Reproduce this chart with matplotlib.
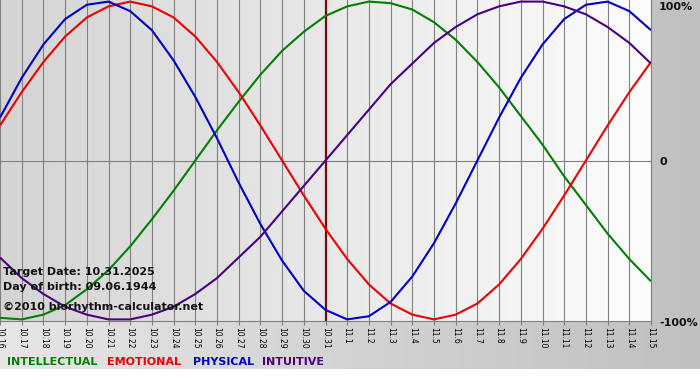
""" Biorhythm chart, 31 days around the target date. """

###########
# Imports #
###########
import numpy as np
import matplotlib
matplotlib.use("Agg")
import matplotlib.pyplot as plt
from matplotlib.colors import LinearSegmentedColormap


########
# Data #
########
day_labels = ["10.16", "10.17", "10.18", "10.19", "10.20", "10.21", "10.22",
              "10.23", "10.24", "10.25", "10.26", "10.27", "10.28", "10.29",
              "10.30", "10.31", "11.1", "11.2", "11.3", "11.4", "11.5", "11.6",
              "11.7", "11.8", "11.9", "11.10", "11.11", "11.12", "11.13",
              "11.14", "11.15"]
target_label = "10.31"

intellectual = [-0.99, -1.00, -0.97, -0.91, -0.81, -0.69, -0.54, -0.37, -0.19,
                0.00, 0.19, 0.37, 0.54, 0.69, 0.81, 0.91, 0.97, 1.00, 0.99,
                0.95, 0.87, 0.76, 0.62, 0.46, 0.28, 0.10, -0.10, -0.28, -0.46,
                -0.62, -0.76]
emotional = [0.22, 0.43, 0.62, 0.78, 0.90, 0.97, 1.00, 0.97, 0.90, 0.78, 0.62,
             0.43, 0.22, 0.00, -0.22, -0.43, -0.62, -0.78, -0.90, -0.97, -1.00,
             -0.97, -0.90, -0.78, -0.62, -0.43, -0.22, 0.00, 0.22, 0.43, 0.62]
physical = [0.27, 0.52, 0.73, 0.89, 0.98, 1.00, 0.94, 0.82, 0.63, 0.40, 0.14,
            -0.14, -0.40, -0.63, -0.82, -0.94, -1.00, -0.98, -0.89, -0.73,
            -0.52, -0.27, 0.00, 0.27, 0.52, 0.73, 0.89, 0.98, 1.00, 0.94, 0.82]
intuitive = [-0.61, -0.74, -0.84, -0.92, -0.97, -1.00, -1.00, -0.97, -0.92,
             -0.84, -0.74, -0.61, -0.48, -0.32, -0.16, 0.00, 0.16, 0.32, 0.48,
             0.61, 0.74, 0.84, 0.92, 0.97, 1.00, 1.00, 0.97, 0.92, 0.84, 0.74,
             0.61]

series_names = ["INTELLECTUAL", "EMOTIONAL", "PHYSICAL", "INTUITIVE"]
series_colors = ["#008000", "#ee0000", "#0000cc", "#4b0082"]
info_lines = ["Target Date: 10.31.2025", "Day of birth: 09.06.1944",
              "\u00a92010 biorhythm-calculator.net"]


#########
# BEGIN #
#########
W, H = 700, 380


def px(x, y):
    # pixel position (from top-left) to figure fraction
    return x / W, 1 - y / H


plt.rcParams['font.family'] = ['DejaVu Sans']
fig = plt.figure(figsize=(W / 100, H / 100), dpi=100, facecolor="white")

# Outer grey gradient background
bg = fig.add_axes([0, 0, 1, 1], zorder=-10)
bg_cmap = LinearSegmentedColormap.from_list("bg", ["#e6e6e6", "#c0c0c0"])
bg.imshow(np.linspace(0, 1, 256)[None, :], cmap=bg_cmap, aspect="auto",
          extent=(0, W, 369, 0))
bg.set_xlim(0, W)
bg.set_ylim(H, 0)
bg.axis("off")

# Plot area
ax = fig.add_axes([0, 59 / H, 651 / W, 321 / H])
ax.patch.set_alpha(0)
x = np.arange(len(day_labels))
ax.set_xlim(x[0], x[-1])
ax.set_ylim(-1.01, 1.01)
plot_cmap = LinearSegmentedColormap.from_list("plot", ["#d4d4d4", "#fdfdfd"])
ax.imshow(np.linspace(0, 1, 256)[None, :], cmap=plot_cmap, aspect="auto",
          extent=(x[0], x[-1], -1.01, 1.01), zorder=0)

ax.set_axisbelow(True)
ax.grid(axis="x", color="#808080", lw=0.8)
ax.axhline(0, color="#808080", lw=0.8, zorder=1)
ax.axvline(day_labels.index(target_label), color="#7a0a0a", lw=1.6, zorder=1)

for vals, col in zip([intellectual, emotional, physical, intuitive], series_colors):
    ax.plot(x, vals, color=col, lw=1.5, zorder=2, solid_capstyle="butt")

ax.set_xticks(x)
ax.set_xticklabels(day_labels, rotation=270, fontsize=5.5)
ax.tick_params(axis="x", length=3, width=0.8, color="#808080", pad=1)
ax.set_yticks([])
for side in ["left", "top"]:
    ax.spines[side].set_visible(False)
for side in ["bottom", "right"]:
    ax.spines[side].set_color("#808080")
    ax.spines[side].set_linewidth(0.8)

# Right side percent labels
for label, y in zip(["100%", "0", "-100%"], [7, 162, 323]):
    fig.text(*px(659, y), label, fontsize=8, fontweight="bold",
             va="center", ha="left", color="#111111")

# Info block
for line, y in zip(info_lines, [272, 287, 307]):
    fig.text(*px(3, y), line, fontsize=8, fontweight="bold",
             va="center", ha="left", color="#111111")

# Legend row
for name, col, xl in zip(series_names, series_colors, [7, 107, 193, 262]):
    fig.text(*px(xl, 362), name, fontsize=8, fontweight="bold",
             va="center", ha="left", color=col)

fig.savefig("out.png", dpi=100)
